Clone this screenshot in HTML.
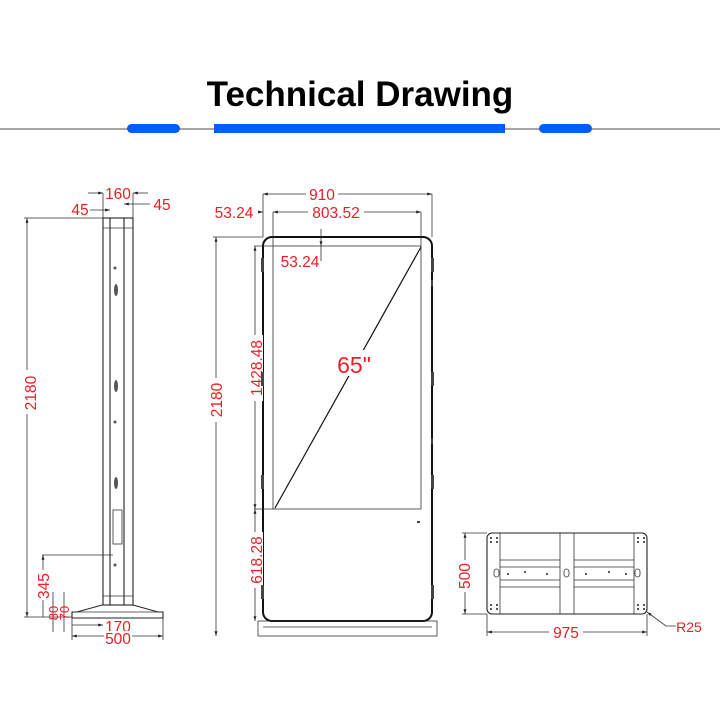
<!DOCTYPE html>
<html><head><meta charset="utf-8"><style>
html,body{margin:0;padding:0;background:#fff;}
svg{display:block;}
.r{fill:#ee1c24;font-family:"Liberation Sans",sans-serif;font-size:15.5px;}
.d{stroke:#333;stroke-width:0.8;fill:none;}
.k{stroke:#222;stroke-width:1.1;fill:none;}
.kk{stroke:#111;stroke-width:2;fill:none;}
</style></head><body>
<svg width="720" height="720" viewBox="0 0 720 720" xmlns="http://www.w3.org/2000/svg">
<defs><marker id="a" viewBox="0 0 10 10" refX="10" refY="5" markerWidth="6" markerHeight="6" orient="auto-start-reverse"><path d="M0,2 L10,5 L0,8 z" fill="#222"/></marker></defs>
<text x="360" y="106" text-anchor="middle" font-family="Liberation Sans,sans-serif" font-weight="bold" font-size="35" fill="#000">Technical Drawing</text>
<line x1="0" y1="129" x2="720" y2="129" stroke="#888" stroke-width="1.5"/>
<rect x="127" y="124" width="53" height="9" rx="4.5" fill="#005cff"/>
<rect x="214" y="124" width="291" height="9" fill="#005cff"/>
<rect x="539" y="124" width="53" height="9" rx="4.5" fill="#005cff"/>

<!-- side view -->
<rect x="103" y="218" width="30" height="387" class="k"/>
<line x1="110" y1="218" x2="110" y2="605" class="k"/>
<line x1="124" y1="218" x2="124" y2="605" class="k"/>
<line x1="103" y1="228" x2="133" y2="228" class="d"/>
<line x1="103" y1="596" x2="133" y2="596" class="d"/>
<path d="M102,605 L133,605 L158,612 L163,612 L163,618 L72,618 L72,612 L77,612 Z" class="k"/>
<line x1="77" y1="612" x2="158" y2="612" class="d"/>
<rect x="113" y="510" width="9" height="34" class="d"/>
<g fill="#555"><ellipse cx="116" cy="290" rx="2" ry="6"/><ellipse cx="116" cy="386" rx="2" ry="6"/><ellipse cx="116" cy="483" rx="2" ry="6"/>
<circle cx="115" cy="268" r="1.5"/><circle cx="115" cy="422" r="1.5"/><circle cx="115" cy="565" r="1.5"/></g>
<line x1="27" y1="218" x2="27" y2="617" class="d" marker-start="url(#a)" marker-end="url(#a)"/>
<line x1="24" y1="218" x2="103" y2="218" class="d"/>
<line x1="24" y1="617" x2="72" y2="617" class="d"/>
<rect x="22" y="370" width="14" height="44" fill="#fff"/>
<text class="r" transform="translate(36,393) rotate(-90)" text-anchor="middle">2180</text>
<line x1="103" y1="193" x2="103" y2="218" class="d"/><line x1="133" y1="193" x2="133" y2="218" class="d"/>
<line x1="88" y1="193" x2="103" y2="193" class="d" marker-end="url(#a)"/><line x1="148" y1="193" x2="133" y2="193" class="d" marker-end="url(#a)"/>
<text class="r" x="118" y="199" text-anchor="middle">160</text>
<line x1="90" y1="210" x2="110" y2="210" class="d" marker-end="url(#a)"/>
<text class="r" x="80" y="215" text-anchor="middle">45</text>
<line x1="150" y1="204" x2="124" y2="204" class="d" marker-end="url(#a)"/>
<text class="r" x="162" y="210" text-anchor="middle">45</text>
<line x1="42" y1="555" x2="113" y2="555" class="d"/>
<line x1="43" y1="555" x2="43" y2="617" class="d" marker-start="url(#a)"/>
<rect x="37" y="570" width="14" height="30" fill="#fff"/>
<text class="r" transform="translate(49,586) rotate(-90)" text-anchor="middle">345</text>
<line x1="53" y1="592" x2="53" y2="632" class="d"/><line x1="64" y1="592" x2="64" y2="632" class="d"/>
<text class="r" transform="translate(58,613) rotate(-90)" text-anchor="middle" style="font-size:13px">80</text>
<text class="r" transform="translate(69,613) rotate(-90)" text-anchor="middle" style="font-size:13px">70</text>
<line x1="72" y1="618" x2="72" y2="640" class="d"/><line x1="163" y1="618" x2="163" y2="640" class="d"/>
<line x1="72" y1="625" x2="103" y2="625" class="d" marker-end="url(#a)"/>
<text class="r" x="118" y="632" text-anchor="middle">170</text>
<line x1="72" y1="636" x2="163" y2="636" class="d" marker-start="url(#a)" marker-end="url(#a)"/>
<rect x="104" y="631" width="28" height="10" fill="#fff"/>
<text class="r" x="118" y="644" text-anchor="middle">500</text>

<!-- front view -->
<rect x="263" y="237" width="169" height="384" rx="9" class="kk"/>
<rect x="273" y="246" width="148" height="263" class="d"/>
<line x1="275" y1="508" x2="421" y2="247" stroke="#111" stroke-width="1.2"/>
<rect x="258" y="621" width="179" height="15" class="d"/>
<line x1="263" y1="627" x2="432" y2="627" class="d"/>
<rect x="338" y="350" width="34" height="26" fill="#fff"/>
<text x="354" y="373" text-anchor="middle" fill="#ee1c24" font-family="Liberation Sans,sans-serif" font-size="23">65"</text>
<line x1="263" y1="194" x2="263" y2="237" class="d"/><line x1="432" y1="194" x2="432" y2="237" class="d"/>
<line x1="263" y1="194" x2="432" y2="194" class="d" marker-start="url(#a)" marker-end="url(#a)"/>
<rect x="306" y="186" width="32" height="16" fill="#fff"/>
<text class="r" x="322" y="200" text-anchor="middle">910</text>
<line x1="273" y1="212" x2="273" y2="246" class="d"/><line x1="421" y1="212" x2="421" y2="246" class="d"/>
<line x1="273" y1="212" x2="421" y2="212" class="d" marker-start="url(#a)" marker-end="url(#a)"/>
<line x1="258" y1="212" x2="263" y2="212" class="d" marker-end="url(#a)"/>
<rect x="308" y="204" width="56" height="16" fill="#fff"/>
<text class="r" x="336" y="218" text-anchor="middle">803.52</text>
<text class="r" x="234" y="218" text-anchor="middle">53.24</text>
<line x1="321" y1="229" x2="321" y2="246" class="d" marker-end="url(#a)"/>
<line x1="321" y1="246" x2="321" y2="261" class="d"/>
<text class="r" x="300" y="267" text-anchor="middle">53.24</text>
<line x1="216" y1="237" x2="216" y2="636" class="d" marker-start="url(#a)" marker-end="url(#a)"/>
<line x1="213" y1="237" x2="263" y2="237" class="d"/>
<rect x="210" y="378" width="14" height="44" fill="#fff"/>
<text class="r" transform="translate(222,400) rotate(-90)" text-anchor="middle">2180</text>
<line x1="254" y1="246" x2="273" y2="246" class="d"/><line x1="254" y1="509" x2="275" y2="509" class="d"/>
<line x1="255" y1="246" x2="255" y2="509" class="d" marker-start="url(#a)" marker-end="url(#a)"/>
<rect x="248" y="335" width="15" height="66" fill="#fff"/>
<text class="r" transform="translate(262,368) rotate(-90)" text-anchor="middle">1428.48</text>
<line x1="255" y1="509" x2="255" y2="621" class="d" marker-start="url(#a)" marker-end="url(#a)"/>
<rect x="248" y="532" width="15" height="56" fill="#fff"/>
<text class="r" transform="translate(262,560) rotate(-90)" text-anchor="middle">618.28</text>
<g fill="#444"><rect x="261" y="258" width="3" height="14"/><rect x="261" y="372" width="3" height="14"/><rect x="261" y="475" width="3" height="14"/><rect x="261" y="585" width="3" height="14"/>
<rect x="431" y="258" width="3" height="14"/><rect x="431" y="372" width="3" height="14"/><rect x="431" y="475" width="3" height="14"/><rect x="431" y="585" width="3" height="14"/>
<rect x="431" y="280" width="2" height="6"/><rect x="431" y="438" width="2" height="6"/><rect x="417" y="521" width="3" height="2"/></g>

<!-- base top view -->
<rect x="487" y="533" width="160" height="81" rx="5" class="k"/>
<line x1="500" y1="533" x2="500" y2="614" class="d"/><line x1="634" y1="533" x2="634" y2="614" class="d"/>
<line x1="560" y1="533" x2="560" y2="614" class="d"/><line x1="574" y1="533" x2="574" y2="614" class="d"/>
<line x1="500" y1="560" x2="560" y2="560" class="d"/><line x1="500" y1="567" x2="560" y2="567" class="d"/>
<line x1="500" y1="580" x2="560" y2="580" class="d"/><line x1="500" y1="587" x2="560" y2="587" class="d"/>
<line x1="574" y1="560" x2="634" y2="560" class="d"/><line x1="574" y1="567" x2="634" y2="567" class="d"/>
<line x1="574" y1="580" x2="634" y2="580" class="d"/><line x1="574" y1="587" x2="634" y2="587" class="d"/>
<g fill="#222"><circle cx="491" cy="538" r="1"/><circle cx="497" cy="538" r="1"/><circle cx="491" cy="542" r="1"/><circle cx="497" cy="542" r="1"/>
<circle cx="638" cy="538" r="1"/><circle cx="644" cy="538" r="1"/><circle cx="638" cy="542" r="1"/><circle cx="644" cy="542" r="1"/>
<circle cx="491" cy="605" r="1"/><circle cx="497" cy="605" r="1"/><circle cx="491" cy="609" r="1"/><circle cx="497" cy="609" r="1"/>
<circle cx="638" cy="605" r="1"/><circle cx="644" cy="605" r="1"/><circle cx="638" cy="609" r="1"/><circle cx="644" cy="609" r="1"/>
<circle cx="508" cy="574" r="1"/><circle cx="525" cy="572" r="1"/><circle cx="547" cy="574" r="1"/><circle cx="586" cy="574" r="1"/><circle cx="609" cy="572" r="1"/><circle cx="626" cy="574" r="1"/></g>
<rect x="494" y="569" width="5" height="8" rx="2.5" class="d"/><rect x="564" y="569" width="5" height="8" rx="2.5" class="d"/><rect x="635" y="569" width="5" height="8" rx="2.5" class="d"/>
<line x1="462" y1="533" x2="487" y2="533" class="d"/><line x1="462" y1="614" x2="487" y2="614" class="d"/>
<line x1="465" y1="533" x2="465" y2="614" class="d" marker-start="url(#a)" marker-end="url(#a)"/>
<rect x="458" y="560" width="14" height="32" fill="#fff"/>
<text class="r" transform="translate(470,576) rotate(-90)" text-anchor="middle">500</text>
<line x1="487" y1="614" x2="487" y2="636" class="d"/><line x1="647" y1="614" x2="647" y2="636" class="d"/>
<line x1="487" y1="632" x2="647" y2="632" class="d" marker-start="url(#a)" marker-end="url(#a)"/>
<rect x="549" y="624" width="34" height="16" fill="#fff"/>
<text class="r" x="566" y="638" text-anchor="middle">975</text>
<polyline points="676,626 666,626 647,612" class="d" marker-end="url(#a)"/>
<text class="r" x="689" y="632" text-anchor="middle" style="font-size:14px">R25</text>
</svg>
</body></html>
